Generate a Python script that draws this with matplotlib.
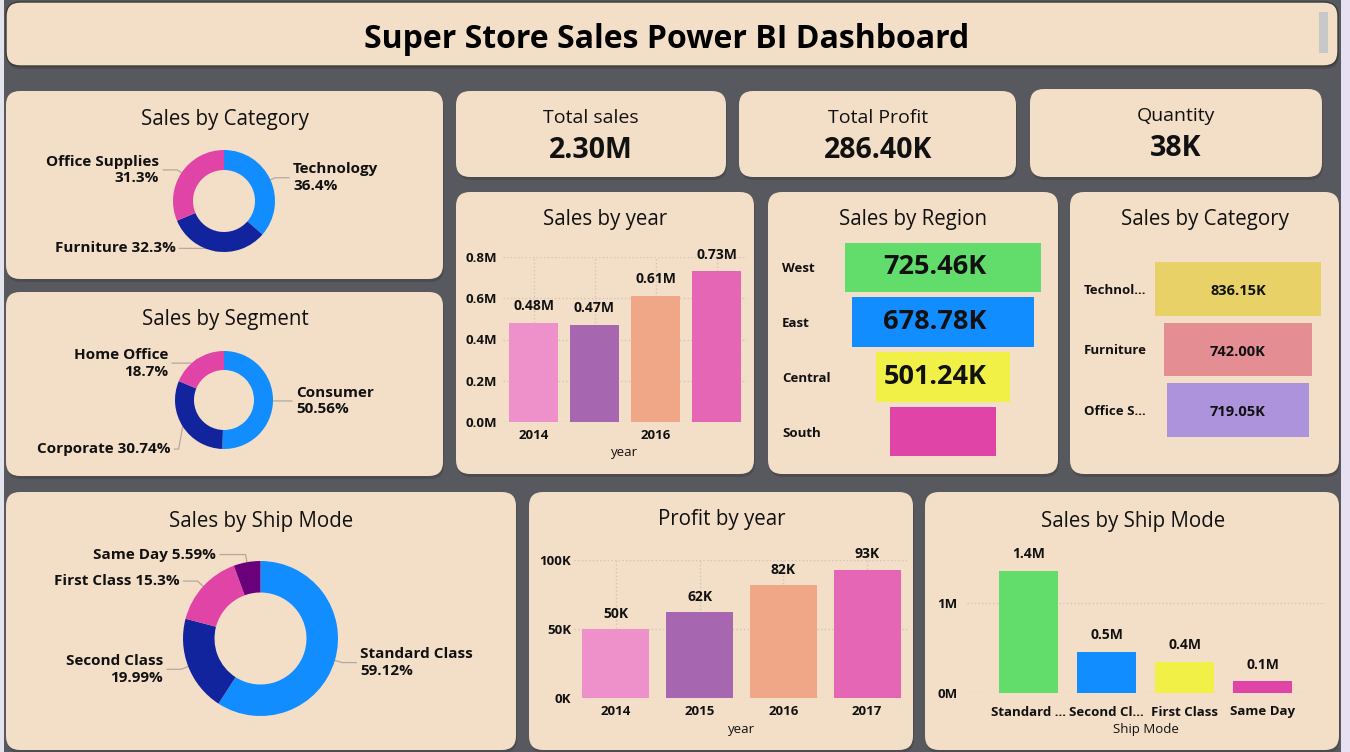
import numpy as np
import matplotlib
matplotlib.use('Agg')
import matplotlib.pyplot as plt
from matplotlib.patches import FancyBboxPatch, Rectangle

plt.rcParams['font.family'] = ['Open Sans', 'DejaVu Sans']

W, H = 1350, 752

# ---------------- data ----------------
cat_names = ['Technology', 'Furniture', 'Office Supplies']
cat_share = [36.4, 32.3, 31.3]
cat_labels = ['Technology\n36.4%', 'Furniture 32.3%', 'Office Supplies\n31.3%']

seg_names = ['Consumer', 'Corporate', 'Home Office']
seg_share = [50.56, 30.74, 18.7]
seg_labels = ['Consumer\n50.56%', 'Corporate 30.74%', 'Home Office\n18.7%']

ship_names = ['Standard Class', 'Second Class', 'First Class', 'Same Day']
ship_share = [59.12, 19.99, 15.3, 5.59]
ship_labels = ['Standard Class\n59.12%', 'Second Class\n19.99%', 'First Class 15.3%', 'Same Day 5.59%']

kpi_titles = ['Total sales', 'Total Profit', 'Quantity']
kpi_values = ['2.30M', '286.40K', '38K']

years = ['2014', '2015', '2016', '2017']
year_ticks = ['2014', '', '2016', '']
sales_by_year = [0.48, 0.47, 0.61, 0.73]      # M
profit_by_year = [50, 62, 82, 93]             # K

regions = ['West', 'East', 'Central', 'South']
region_sales = [725.46, 678.78, 501.24, 391.72]   # K
region_lbl = ['725.46K', '678.78K', '501.24K', '']

funnel_cats = ['Technol...', 'Furniture', 'Office S...']
funnel_sales = [836.15, 742.00, 719.05]       # K

ship_ticks = ['Standard ...', 'Second Cl...', 'First Class', 'Same Day']
ship_sales = [1.36, 0.46, 0.35, 0.13]         # M
ship_sales_lbl = ['1.4M', '0.5M', '0.4M', '0.1M']

# ---------------- style ----------------
PANEL = '#F3DFC7'
BG = '#58595E'
TXT = '#111111'
LEADER = '#B3A99E'
GRID = '#CFC6BB'
donut_colors = ['#118DFF', '#12239E', '#E044A7', '#6B007B']
year_colors = ['#EE90CA', '#A666B0', '#EFA787', '#E566B5']
region_colors = ['#62DD6C', '#118DFF', '#F0F046', '#E044A7']
funnel_colors = ['#E8D166', '#E48D93', '#AC93DC']
shipbar_colors = ['#62DD6C', '#118DFF', '#F0F046', '#E044A7']

TICK_FS = 9.5


def rect(x0, y0, x1, y1):
    return [x0 / W, 1 - y1 / H, (x1 - x0) / W, (y1 - y0) / H]


fig = plt.figure(figsize=(W / 100, H / 100), dpi=100, facecolor=BG)
bg = fig.add_axes([0, 0, 1, 1])
bg.set_xlim(0, W)
bg.set_ylim(H, 0)
bg.axis('off')

bg.add_patch(Rectangle((0, 0), 4, H, color='#E4E4EC', lw=0))
bg.add_patch(Rectangle((1341, 0), 9, H, color='#E6E0F2', lw=0))


def panel(x0, y0, x1, y1, r=14, ec='none', lw=0):
    bg.add_patch(FancyBboxPatch((x0 + 1, y0 + 3), x1 - x0, y1 - y0,
                                boxstyle=f'round,pad=0,rounding_size={r}',
                                fc='#3c3c40', ec='none', alpha=0.45))
    bg.add_patch(FancyBboxPatch((x0, y0), x1 - x0, y1 - y0,
                                boxstyle=f'round,pad=0,rounding_size={r}',
                                fc=PANEL, ec=ec, lw=lw))


# title bar
panel(6, 2, 1338, 66, ec='#3a3a3a', lw=1)
bg.add_patch(Rectangle((1319, 12), 9, 41, color='#C8C8C8', lw=0))
bg.text(667, 39, 'Super Store Sales Power BI Dashboard', ha='center', va='center',
        fontsize=23, fontweight='bold', color='black')

panels = {
    'cat': (6, 91, 443, 279), 'seg': (6, 292, 443, 476),
    'k1': (456, 91, 726, 177), 'k2': (739, 91, 1016, 177), 'k3': (1030, 89, 1322, 177),
    'year': (456, 192, 754, 474), 'region': (768, 192, 1058, 474), 'funnel': (1070, 192, 1339, 474),
    'shipd': (6, 492, 516, 750), 'profit': (529, 492, 913, 750), 'shipb': (925, 492, 1339, 750),
}
for p in panels.values():
    panel(*p)

titles = [(225, 119, 'Sales by Category'), (225, 320, 'Sales by Segment'),
          (605, 219, 'Sales by year'), (913, 219, 'Sales by Region'),
          (1205, 219, 'Sales by Category'), (261, 521, 'Sales by Ship Mode'),
          (722, 519, 'Profit by year'), (1133, 521, 'Sales by Ship Mode')]
for x, y, t in titles:
    bg.text(x, y, t, ha='center', va='center', fontsize=14.8, color=TXT)

# KPI cards
for (x, yt, yv), t, v in zip([(591, 118, 151), (878, 118, 151), (1176, 116, 149)],
                             kpi_titles, kpi_values):
    bg.text(x, yt, t, ha='center', va='center', fontsize=14, color=TXT)
    bg.text(x, yv, v, ha='center', va='center', fontsize=20.5, fontweight='bold', color=TXT)


# ---------------- donuts ----------------
def donut(cx, cy, r, inner, shares, labels, colors, shifts=None):
    ax = fig.add_axes(rect(cx - r, cy - r, cx + r, cy + r))
    wedges, _ = ax.pie(shares, colors=colors[:len(shares)], startangle=90, counterclock=False,
                       radius=1, wedgeprops=dict(width=1 - inner / r, edgecolor='none'))
    ax.set_xlim(-1, 1)
    ax.set_ylim(-1, 1)
    ax.axis('off')
    if shifts is None:
        shifts = [(0, 0)] * len(labels)
    for w, lab, (dx, dy) in zip(wedges, labels, shifts):
        mid = np.deg2rad((w.theta1 + w.theta2) / 2)
        px, py = cx + r * np.cos(mid), cy - r * np.sin(mid)
        ex, ey = cx + 1.1 * r * np.cos(mid), cy - 1.1 * r * np.sin(mid)
        side = 1 if np.cos(mid) >= 0 else -1
        endx = cx + side * max(abs(ex - cx) + 14, 0.6 * r) + dx
        ey2 = ey + dy
        bg.plot([px, ex, endx], [py, ey2, ey2], color=LEADER, lw=0.9)
        bg.text(endx + side * 4, ey2, lab, ha='left' if side > 0 else 'right',
                va='center', fontsize=11, fontweight='bold', color=TXT,
                multialignment='left' if side > 0 else 'right', linespacing=1.25)


donut(224, 201, 51, 31, cat_share, cat_labels, donut_colors,
      shifts=[(0, 0), (-14, -8), (0, 0)])
donut(224, 400, 49, 30, seg_share, seg_labels, donut_colors,
      shifts=[(0, 0), (10, 20), (-8, 8)])
donut(260.5, 638.5, 77.5, 46, ship_share, ship_labels, donut_colors,
      shifts=[(0, 0), (0, 0), (0, 0), (6, 0)])


def style_axes(ax):
    ax.set_facecolor('none')
    for s in ax.spines.values():
        s.set_visible(False)
    ax.tick_params(length=0, colors=TXT)
    ax.set_axisbelow(True)


# ---------------- sales by year ----------------
ax = fig.add_axes(rect(503, 257, 747, 422))
style_axes(ax)
x = np.arange(len(years))
ax.bar(x, sales_by_year, width=0.8, color=year_colors)
ax.set_xlim(-0.5, 3.5)
ax.set_ylim(0, 0.8)
ax.set_yticks([0, 0.2, 0.4, 0.6, 0.8])
ax.set_yticklabels(['0.0M', '0.2M', '0.4M', '0.6M', '0.8M'], fontsize=TICK_FS, fontweight='bold')
ax.set_xticks(x)
ax.set_xticklabels(year_ticks, fontsize=TICK_FS, fontweight='bold')
ax.tick_params(axis='y', pad=4)
ax.tick_params(axis='x', pad=5)
ax.set_xlabel('year', fontsize=9.5, labelpad=3, color=TXT)
ax.grid(True, ls=':', color=GRID, lw=1)
for i, v in enumerate(sales_by_year):
    ax.annotate(f'{v:.2f}M', (i, v), xytext=(0, 7), textcoords='offset points',
                ha='center', va='bottom', fontsize=10, fontweight='bold', color=TXT)

# ---------------- profit by year ----------------
ax = fig.add_axes(rect(574, 560, 909, 698))
style_axes(ax)
ax.bar(x, profit_by_year, width=0.8, color=year_colors)
ax.set_xlim(-0.5, 3.5)
ax.set_ylim(0, 100)
ax.set_yticks([0, 50, 100])
ax.set_yticklabels(['0K', '50K', '100K'], fontsize=TICK_FS, fontweight='bold')
ax.set_xticks(x)
ax.set_xticklabels(years, fontsize=TICK_FS, fontweight='bold')
ax.tick_params(axis='y', pad=2)
ax.tick_params(axis='x', pad=5)
ax.set_xlabel('year', fontsize=9.5, labelpad=4, color=TXT)
ax.grid(True, ls=':', color=GRID, lw=1)
for i, v in enumerate(profit_by_year):
    ax.annotate(f'{v}K', (i, v), xytext=(0, 6), textcoords='offset points',
                ha='center', va='bottom', fontsize=10, fontweight='bold', color=TXT)

# ---------------- sales by ship mode (bars) ----------------
ax = fig.add_axes(rect(967, 560, 1325, 693))
style_axes(ax)
ax.bar(x, ship_sales, width=0.76, color=shipbar_colors)
ax.set_xlim(-0.79, 3.8)
ax.set_ylim(0, 1.478)
ax.set_yticks([0, 1])
ax.set_yticklabels(['0M', '1M'], fontsize=TICK_FS, fontweight='bold')
ax.set_xticks(x)
ax.set_xticklabels(ship_ticks, fontsize=TICK_FS, fontweight='bold')
ax.tick_params(axis='y', pad=7)
ax.tick_params(axis='x', pad=9)
ax.set_xlabel('Ship Mode', fontsize=9.5, labelpad=3, color=TXT)
ax.grid(True, axis='y', ls=':', color=GRID, lw=1)
for i, (v, t) in enumerate(zip(ship_sales, ship_sales_lbl)):
    ax.annotate(t, (i, v), xytext=(0, 7), textcoords='offset points',
                ha='center', va='bottom', fontsize=10, fontweight='bold', color=TXT)

# ---------------- sales by region (funnel) ----------------
ax = fig.add_axes(rect(843, 240, 1043, 459))
style_axes(ax)
y = np.arange(len(regions))
ax.barh(y, region_sales, left=-np.array(region_sales) / 2, height=0.9, color=region_colors)
ax.set_xlim(-372, 372)
ax.set_ylim(3.5, -0.5)
ax.set_xticks([])
ax.set_yticks(y)
ax.set_yticklabels(regions, fontsize=TICK_FS, fontweight='bold')
for lbl in ax.get_yticklabels():
    lbl.set_ha('left')
ax.tick_params(axis='y', pad=44)
for i, t in enumerate(region_lbl):
    ax.text(-30, i, t, ha='center', va='center', fontsize=19.5, fontweight='bold', color=TXT)

# ---------------- sales by category (funnel) ----------------
ax = fig.add_axes(rect(1153, 258.75, 1323, 440.25))
style_axes(ax)
y = np.arange(len(funnel_cats))
ax.barh(y, funnel_sales, left=-np.array(funnel_sales) / 2, height=0.89, color=funnel_colors)
ax.set_xlim(-428, 428)
ax.set_ylim(2.5, -0.5)
ax.set_xticks([])
ax.set_yticks(y)
ax.set_yticklabels(funnel_cats, fontsize=TICK_FS, fontweight='bold')
for lbl in ax.get_yticklabels():
    lbl.set_ha('left')
ax.tick_params(axis='y', pad=50)
for i, v in enumerate(funnel_sales):
    ax.text(0, i + 0.04, f'{v:.2f}K', ha='center', va='center', fontsize=10.5,
            fontweight='bold', color=TXT)

fig.savefig('out.png', dpi=100, facecolor=fig.get_facecolor())
